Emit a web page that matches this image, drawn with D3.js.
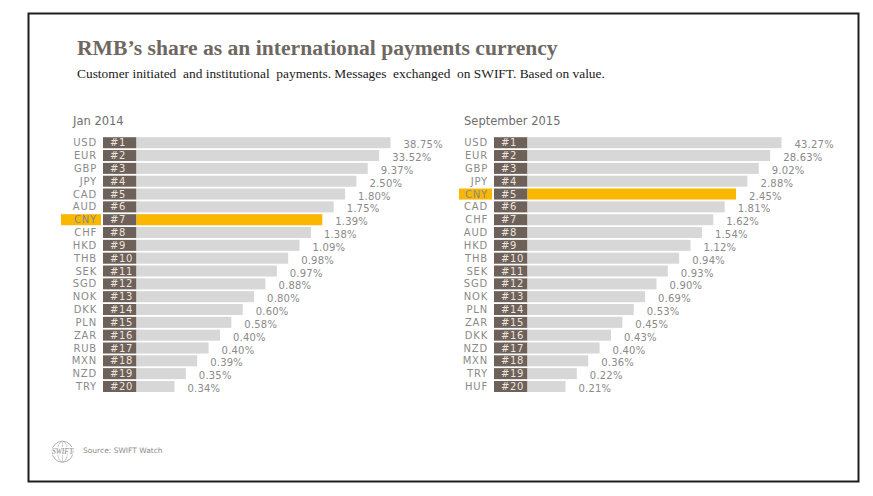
<!DOCTYPE html>
<html>
<head>
<meta charset="utf-8">
<script src="https://cdn.jsdelivr.net/npm/d3@7"></script>
<style>
  body { margin: 0; background: #fff; }
  svg { display: block; }
</style>
</head>
<body>
<div id="chart"></div>
<script>
// Ranking data
const currencies2014 = ["USD", "EUR", "GBP", "JPY", "CAD", "AUD", "CNY", "CHF", "HKD", "THB",
  "SEK", "SGD", "NOK", "DKK", "PLN", "ZAR", "RUB", "MXN", "NZD", "TRY"];
const shares2014 = [38.75, 33.52, 9.37, 2.50, 1.80, 1.75, 1.39, 1.38, 1.09, 0.98,
  0.97, 0.88, 0.80, 0.60, 0.58, 0.40, 0.40, 0.39, 0.35, 0.34];

const currencies2015 = ["USD", "EUR", "GBP", "JPY", "CNY", "CAD", "CHF", "AUD", "HKD", "THB",
  "SEK", "SGD", "NOK", "PLN", "ZAR", "DKK", "NZD", "MXN", "TRY", "HUF"];
const shares2015 = [43.27, 28.63, 9.02, 2.88, 2.45, 1.81, 1.62, 1.54, 1.12, 0.94,
  0.93, 0.90, 0.69, 0.53, 0.45, 0.43, 0.40, 0.36, 0.22, 0.21];

const ranks = d3.range(1, 21);
const highlight = "CNY";

const W = 873, H = 496;

const svg = d3.select("#chart")
  .append("svg")
  .attr("width", W)
  .attr("height", H);

svg.append("rect").attr("width", W).attr("height", H).attr("fill", "#fff");

// outer frame
svg.append("rect")
  .attr("x", 28.5).attr("y", 13.5)
  .attr("width", 830).attr("height", 468)
  .attr("fill", "none")
  .attr("stroke", "#1e1e1e")
  .attr("stroke-width", 2);

// title + subtitle
svg.append("text")
  .attr("x", 77).attr("y", 55)
  .attr("font-family", "'Liberation Serif', 'Times New Roman', serif")
  .attr("font-weight", "bold")
  .attr("font-size", 21.6)
  .attr("fill", "#6f6862")
  .text("RMB\u2019s share as an international payments currency");

svg.append("text")
  .attr("x", 77).attr("y", 78)
  .attr("font-family", "'Liberation Serif', 'Times New Roman', serif")
  .attr("font-size", 13.4)
  .attr("fill", "#1a1a1a")
  .attr("xml:space", "preserve")
  .text("Customer initiated  and institutional  payments. Messages  exchanged  on SWIFT. Based on value.");

// shared scales: rows by rank, bar length falls by a fixed step per rank
const yScale = d3.scaleBand()
  .domain(ranks)
  .range([136.3, 136.3 + 20 * 12.83])
  .paddingInner(0.14)
  .paddingOuter(0.07);

const lenScale = d3.scaleLinear()
  .domain([1, 20])
  .range([254, 38]);

const boxW = 33.5;

function drawPanel(x0, title, names, values, hlWidth) {
  const g = svg.append("g").attr("transform", `translate(${x0}, 0)`);
  const rows = names.map((n, i) => ({ name: n, value: values[i], rank: ranks[i] }));

  g.append("text")
    .attr("x", -30).attr("y", 125)
    .attr("font-family", "'DejaVu Sans', sans-serif")
    .attr("font-size", 11.5)
    .attr("fill", "#6e6e6e")
    .text(title);

  // yellow patch behind highlighted currency code
  g.selectAll(".hl")
    .data(rows.filter(d => d.name === highlight))
    .join("rect")
    .attr("x", -hlWidth)
    .attr("y", d => yScale(d.rank))
    .attr("width", hlWidth - 2)
    .attr("height", yScale.bandwidth())
    .attr("fill", "#f9b700");

  g.selectAll(".code")
    .data(rows)
    .join("text")
    .attr("x", -6)
    .attr("y", d => yScale(d.rank) + yScale.bandwidth() / 2)
    .attr("dy", "0.36em")
    .attr("text-anchor", "end")
    .attr("font-family", "'DejaVu Sans', sans-serif")
    .attr("font-size", 10)
    .attr("letter-spacing", 0.8)
    .attr("fill", "#8a8a8a")
    .text(d => d.name);

  g.selectAll(".rankbox")
    .data(rows)
    .join("rect")
    .attr("x", 0)
    .attr("y", d => yScale(d.rank))
    .attr("width", boxW)
    .attr("height", yScale.bandwidth())
    .attr("fill", "#6d615a");

  g.selectAll(".ranktxt")
    .data(rows)
    .join("text")
    .attr("x", 7)
    .attr("y", d => yScale(d.rank) + yScale.bandwidth() / 2)
    .attr("dy", "0.36em")
    .attr("font-family", "'DejaVu Sans', sans-serif")
    .attr("font-size", 10)
    .attr("letter-spacing", 0.6)
    .attr("fill", "#ece4dc")
    .text(d => "#" + d.rank);

  g.selectAll(".bar")
    .data(rows)
    .join("rect")
    .attr("x", boxW)
    .attr("y", d => yScale(d.rank))
    .attr("width", d => lenScale(d.rank))
    .attr("height", yScale.bandwidth())
    .attr("fill", d => d.name === highlight ? "#f9b700" : "#d7d7d7");

  g.selectAll(".val")
    .data(rows)
    .join("text")
    .attr("x", d => boxW + lenScale(d.rank) + 13)
    .attr("y", d => yScale(d.rank) + yScale.bandwidth() / 2 + 2)
    .attr("dy", "0.36em")
    .attr("font-family", "'DejaVu Sans', sans-serif")
    .attr("font-size", 10)
    .attr("letter-spacing", 0.2)
    .attr("fill", "#8a8a8a")
    .text(d => d.value.toFixed(2) + "%");
}

drawPanel(103, "Jan 2014", currencies2014, shares2014, 42);
drawPanel(494, "September 2015", currencies2015, shares2015, 35);

// footer: SWIFT globe + source
const logo = svg.append("g").attr("transform", "translate(62.5, 451.7)");
logo.append("circle").attr("r", 10.5).attr("fill", "none").attr("stroke", "#9a9a9a").attr("stroke-width", 0.8);
logo.append("ellipse").attr("rx", 5).attr("ry", 10.5).attr("fill", "none").attr("stroke", "#b0b0b0").attr("stroke-width", 0.6);
logo.append("line").attr("x1", 0).attr("x2", 0).attr("y1", -10.5).attr("y2", 10.5).attr("stroke", "#b0b0b0").attr("stroke-width", 0.6);
logo.append("text")
  .attr("y", 2.5)
  .attr("text-anchor", "middle")
  .attr("font-family", "'Liberation Serif', serif")
  .attr("font-style", "italic")
  .attr("font-size", 7.5)
  .attr("fill", "#888")
  .attr("stroke", "#fff")
  .attr("stroke-width", 1.5)
  .attr("paint-order", "stroke")
  .text("SWIFT");

svg.append("text")
  .attr("x", 83).attr("y", 453)
  .attr("font-family", "'DejaVu Sans', sans-serif")
  .attr("font-size", 7.5)
  .attr("fill", "#8c8c8c")
  .text("Source: SWIFT Watch");
</script>
</body>
</html>
